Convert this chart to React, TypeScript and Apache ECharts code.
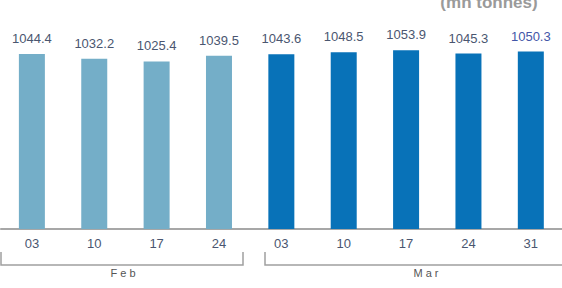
import React, { useEffect, useRef } from "react";
import * as echarts from "echarts";

const categories = ["03", "10", "17", "24", "03", "10", "17", "24", "31"];
const values = [1044.4, 1032.2, 1025.4, 1039.5, 1043.6, 1048.5, 1053.9, 1045.3, 1050.3];
const months = ["Feb", "Feb", "Feb", "Feb", "Mar", "Mar", "Mar", "Mar", "Mar"];
const monthColors: Record<string, string> = { Feb: "#74aec8", Mar: "#0872b8" };
const unitText = "(mn tonnes)";

export default function App() {
  const ref = useRef<HTMLDivElement>(null);
  useEffect(() => {
    if (!ref.current) return;
    const chart = echarts.init(ref.current, undefined, { renderer: "svg" });
    const font = "Liberation Sans, Arial, sans-serif";
    chart.setOption({
      animation: false,
      grid: { left: 0.7, right: -9.8, top: 32, bottom: 59 },
      xAxis: {
        type: "category",
        data: categories,
        axisLine: { lineStyle: { color: "#8a8a8a", width: 1.5 } },
        axisTick: { length: 4, lineStyle: { color: "#8a8a8a", width: 1.5 } },
        axisLabel: { color: "#4a5670", fontSize: 13, margin: 8, fontFamily: font },
      },
      yAxis: {
        type: "value",
        min: 600,
        max: 1100,
        show: false,
        splitLine: { show: false },
      },
      series: [
        {
          type: "bar",
          barWidth: 26,
          data: values.map((v, i) => ({
            value: v,
            itemStyle: { color: monthColors[months[i]] },
            label: i === values.length - 1 ? { color: "#4356a8" } : undefined,
          })),
          label: {
            show: true,
            position: "top",
            distance: 9,
            color: "#4a5670",
            fontSize: 13,
            fontFamily: font,
            formatter: (p: any) => p.value.toFixed(1),
          },
        },
      ],
      graphic: [
        {
          type: "polyline",
          shape: { points: [[1, 252], [1, 265], [243, 265], [243, 252]] },
          style: { stroke: "#a0a0a0", lineWidth: 1.5, fill: "none" },
        },
        {
          type: "polyline",
          shape: { points: [[265, 252], [265, 265], [575, 265]] },
          style: { stroke: "#a0a0a0", lineWidth: 1.5, fill: "none" },
        },
        {
          type: "text",
          x: 123,
          y: 273,
          style: {
            text: "F e b",
            fill: "#555",
            font: "11px Liberation Sans, Arial, sans-serif",
            align: "center",
            verticalAlign: "middle",
          },
        },
        {
          type: "text",
          x: 426,
          y: 273,
          style: {
            text: "M a r",
            fill: "#555",
            font: "11px Liberation Sans, Arial, sans-serif",
            align: "center",
            verticalAlign: "middle",
          },
        },
        {
          type: "text",
          x: 489,
          y: 11,
          style: {
            text: unitText,
            fill: "#9a9a9a",
            font: "bold 17px Liberation Sans, Arial, sans-serif",
            align: "center",
            verticalAlign: "bottom",
          },
        },
      ],
    });
    return () => chart.dispose();
  }, []);
  return <div ref={ref} style={{ width: 562, height: 288, position: "absolute", left: 0, top: 0 }} />;
}
